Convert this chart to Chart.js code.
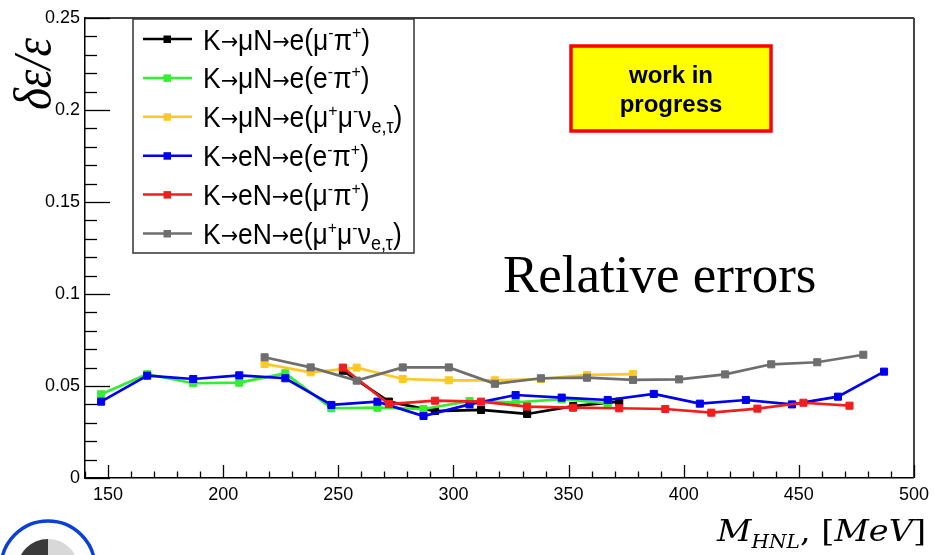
<!DOCTYPE html>
<html>
<head>
<meta charset="utf-8">
<script src="https://cdn.jsdelivr.net/npm/chart.js@4.4.1/dist/chart.umd.min.js"></script>
<style>
html, body { margin: 0; padding: 0; background: #fff; }
#wrap { position: relative; width: 935px; height: 555px; overflow: hidden; }
</style>
</head>
<body>
<div id="wrap"><canvas id="errChart" width="935" height="555"></canvas></div>
<script>
// axis ticks
const xTicks = [150, 200, 250, 300, 350, 400, 450, 500];
const yTicks = [0, 0.05, 0.1, 0.15, 0.2, 0.25];

// HNL masses (MeV) per channel
const massMuMuPi = [252, 272, 292, 312, 332, 352, 372];
const massMuEPi = [147, 167, 187, 207, 227, 247, 267, 287, 307, 327, 347, 367];
const massMuMuMu = [218, 238, 258, 278, 298, 318, 338, 358, 378];
const massEEPi = [147, 167, 187, 207, 227, 247, 267, 287, 307, 327, 347, 367, 387, 407, 427, 447, 467, 487];
const massEMuPi = [252, 272, 292, 312, 332, 352, 372, 392, 412, 432, 452, 472];
const massEMuMu = [218, 238, 258, 278, 298, 318, 338, 358, 378, 398, 418, 438, 458, 478];

// relative errors
const errMuMuPi = [0.0583, 0.0415, 0.0364, 0.0370, 0.0348, 0.0391, 0.0415];
const errMuEPi = [0.0455, 0.0564, 0.0515, 0.0518, 0.0569, 0.0379, 0.0382, 0.0375, 0.0418, 0.0411, 0.0428, 0.0406];
const errMuMuMu = [0.0620, 0.0574, 0.0600, 0.0538, 0.0531, 0.0531, 0.0538, 0.0560, 0.0565];
const errEEPi = [0.0415, 0.0556, 0.0538, 0.0558, 0.0542, 0.0397, 0.0415, 0.0337, 0.0400, 0.0451, 0.0437, 0.0424, 0.0457, 0.0404, 0.0424, 0.0400, 0.0442, 0.0578];
const errEMuPi = [0.0600, 0.0402, 0.0420, 0.0415, 0.0388, 0.0382, 0.0379, 0.0375, 0.0355, 0.0377, 0.0409, 0.0393];
const errEMuMu = [0.0656, 0.0601, 0.0529, 0.0601, 0.0601, 0.0512, 0.0542, 0.0545, 0.0533, 0.0536, 0.0563, 0.0618, 0.0629, 0.0670];

// legend labels: [text, 0 normal / 1 superscript / -1 subscript / 2 arrow]
const labelMuMuPi = [['K', 0], ['→', 2], ['μN', 0], ['→', 2], ['e(μ', 0], ['-', 1], ['π', 0], ['+', 1], [')', 0]];
const labelMuEPi = [['K', 0], ['→', 2], ['μN', 0], ['→', 2], ['e(e', 0], ['-', 1], ['π', 0], ['+', 1], [')', 0]];
const labelMuMuMu = [['K', 0], ['→', 2], ['μN', 0], ['→', 2], ['e(μ', 0], ['+', 1], ['μ', 0], ['-', 1], ['ν', 0], ['e,τ', -1], [')', 0]];
const labelEEPi = [['K', 0], ['→', 2], ['eN', 0], ['→', 2], ['e(e', 0], ['-', 1], ['π', 0], ['+', 1], [')', 0]];
const labelEMuPi = [['K', 0], ['→', 2], ['eN', 0], ['→', 2], ['e(μ', 0], ['-', 1], ['π', 0], ['+', 1], [')', 0]];
const labelEMuMu = [['K', 0], ['→', 2], ['eN', 0], ['→', 2], ['e(μ', 0], ['+', 1], ['μ', 0], ['-', 1], ['ν', 0], ['e,τ', -1], [')', 0]];

function toPoints(xs, ys) {
    return xs.map((x, i) => ({ x: x, y: ys[i] }));
}

function series(parts, xs, ys, color, order) {
    return {
        label: parts.map(p => p[0]).join(''),
        parts: parts,
        data: toPoints(xs, ys),
        borderColor: color,
        backgroundColor: color,
        pointBackgroundColor: color,
        pointBorderColor: color,
        borderWidth: 2.7,
        pointStyle: 'rect',
        pointRadius: 5,
        pointBorderWidth: 1,
        tension: 0,
        order: order
    };
}

const datasets = [
    series(labelMuMuPi, massMuMuPi, errMuMuPi, '#000000', 6),
    series(labelMuEPi, massMuEPi, errMuEPi, '#33ee33', 5),
    series(labelMuMuMu, massMuMuMu, errMuMuMu, '#ffc825', 4),
    series(labelEEPi, massEEPi, errEEPi, '#0000ee', 3),
    series(labelEMuPi, massEMuPi, errEMuPi, '#f01e1e', 2),
    series(labelEMuMu, massEMuMu, errEMuMu, '#6e6e6e', 1)
];

const sansFam = '"Liberation Sans", Arial, sans-serif';
const arrowFam = '"DejaVu Sans", sans-serif';

// draw label pieces from x, returns the end x (draw=false only measures)
function drawParts(ctx, parts, x, y, size, draw) {
    parts.forEach(p => {
        let fs = size, dy = 0, fam = sansFam;
        if (p[1] === 1) { fs = size * 0.6; dy = -size * 0.38; }
        if (p[1] === -1) { fs = size * 0.68; dy = size * 0.2; }
        if (p[1] === 2) { fam = arrowFam; fs = size * 0.78; dy = -size * 0.03; }
        ctx.font = fs + 'px ' + fam;
        if (draw) ctx.fillText(p[0], x, y + dy);
        x += ctx.measureText(p[0]).width;
    });
    return x;
}

// frame, inward ticks, legend, titles and labels
const decorPlugin = {
    id: 'decor',
    afterDraw(chart) {
        const ctx = chart.ctx;
        const area = chart.chartArea;
        const xs = chart.scales.x, ys = chart.scales.y;
        ctx.save();

        // top / right frame
        ctx.strokeStyle = '#000';
        ctx.lineWidth = 1.5;
        ctx.beginPath();
        ctx.moveTo(area.left, area.top);
        ctx.lineTo(area.right, area.top);
        ctx.stroke();
        ctx.strokeStyle = '#444';
        ctx.lineWidth = 2;
        ctx.beginPath();
        ctx.moveTo(area.right, area.top);
        ctx.lineTo(area.right, area.bottom);
        ctx.stroke();

        // ticks
        ctx.strokeStyle = '#000';
        ctx.lineWidth = 1.3;
        for (let v = 140; v <= 500; v += 10) {
            const px = Math.round(xs.getPixelForValue(v)) + 0.5;
            const len = v % 50 === 0 ? 13 : 6.5;
            ctx.beginPath();
            ctx.moveTo(px, area.bottom);
            ctx.lineTo(px, area.bottom - len);
            ctx.stroke();
        }
        for (let i = 0; i <= 25; i++) {
            const py = Math.round(ys.getPixelForValue(i / 100)) + 0.5;
            const len = i % 5 === 0 ? 25 : 12;
            ctx.beginPath();
            ctx.moveTo(area.left, py);
            ctx.lineTo(area.left + len, py);
            ctx.stroke();
        }

        // legend
        const lx = 133, ly = 19, lw = 281, lh = 234;
        ctx.fillStyle = '#fff';
        ctx.fillRect(lx, ly, lw, lh);
        const fontSize = 29;
        const firstW = drawParts(ctx, chart.data.datasets[0].parts, 0, 0, fontSize, false);
        const sx = 167 / firstW;
        chart.data.datasets.forEach((ds, i) => {
            const cy = 39 + i * 38.9;
            ctx.strokeStyle = ds.borderColor;
            ctx.lineWidth = 2.5;
            ctx.beginPath();
            ctx.moveTo(143, cy);
            ctx.lineTo(192, cy);
            ctx.stroke();
            ctx.fillStyle = ds.borderColor;
            ctx.fillRect(163.5, cy - 3.5, 7.5, 7.5);
            ctx.fillStyle = '#000';
            ctx.textBaseline = 'alphabetic';
            ctx.textAlign = 'left';
            ctx.save();
            ctx.beginPath();
            ctx.rect(lx, ly, lw, lh);
            ctx.clip();
            ctx.translate(203, cy + 10.5);
            ctx.scale(sx, 1);
            drawParts(ctx, ds.parts, 0, 0, fontSize, true);
            ctx.restore();
        });
        ctx.strokeStyle = '#333';
        ctx.lineWidth = 1.5;
        ctx.strokeRect(lx, ly, lw, lh);

        // work in progress box
        ctx.fillStyle = '#ffff00';
        ctx.fillRect(571, 46, 200, 85);
        ctx.strokeStyle = '#ff0000';
        ctx.lineWidth = 3.5;
        ctx.strokeRect(571, 46, 200, 85);
        ctx.fillStyle = '#000';
        ctx.textAlign = 'center';
        ctx.font = 'bold 24px ' + sansFam;
        ctx.fillText('work in', 671, 83);
        ctx.fillText('progress', 671, 112);

        // relative errors
        ctx.textAlign = 'left';
        ctx.font = '53px "Liberation Serif", "Times New Roman", serif';
        ctx.fillText('Relative errors', 503, 292);

        // y title
        ctx.save();
        ctx.font = 'italic 52px "Liberation Serif", serif';
        const yt = 'δε/ε';
        const ytw = ctx.measureText(yt).width;
        ctx.translate(50, 110);
        ctx.rotate(-Math.PI / 2);
        ctx.scale(72 / ytw, 1);
        ctx.textAlign = 'left';
        ctx.fillText(yt, 0, 0);
        ctx.restore();

        // x title
        ctx.save();
        const fam = '"DejaVu Serif", serif';
        const xParts = [['M', 'italic 30px ', 0], ['HNL', 'italic 18px ', 7], [', [', '30px ', 0], ['MeV', 'italic 30px ', 0], [']', '30px ', 0]];
        let total = 0;
        xParts.forEach(p => { ctx.font = p[1] + fam; total += ctx.measureText(p[0]).width; });
        ctx.translate(717, 541);
        ctx.scale(209 / total, 1);
        ctx.textAlign = 'left';
        let tx = 0;
        xParts.forEach(p => {
            ctx.font = p[1] + fam;
            ctx.fillText(p[0], tx, p[2]);
            tx += ctx.measureText(p[0]).width;
        });
        ctx.restore();

        // logo
        ctx.fillStyle = '#3a3a3a';
        ctx.beginPath();
        ctx.arc(48, 570, 31, Math.PI / 2, Math.PI * 1.5);
        ctx.fill();
        ctx.fillStyle = '#d8d8d8';
        ctx.beginPath();
        ctx.arc(48, 570, 31, -Math.PI / 2, Math.PI / 2);
        ctx.fill();
        ctx.strokeStyle = '#0a3fd8';
        ctx.lineWidth = 3.5;
        ctx.beginPath();
        ctx.arc(48, 568, 47, 0, Math.PI * 2);
        ctx.stroke();

        ctx.restore();
    }
};

const tickFont = { family: sansFam, size: 18 };

const config = {
    type: 'line',
    data: { datasets: datasets },
    options: {
        responsive: false,
        animation: false,
        layout: { padding: { top: 18, right: 20, left: 0, bottom: 0 } },
        plugins: {
            legend: { display: false },
            tooltip: { enabled: false }
        },
        scales: {
            x: {
                type: 'linear',
                min: 140,
                max: 500,
                afterBuildTicks: s => { s.ticks = xTicks.map(v => ({ value: v })); },
                afterFit: s => { s.height = 77; },
                grid: { display: false, drawTicks: false },
                border: { display: true, color: '#000', width: 1.5 },
                ticks: { font: tickFont, color: '#000', padding: 6, maxRotation: 0, autoSkip: false }
            },
            y: {
                min: 0,
                max: 0.25,
                afterBuildTicks: s => { s.ticks = yTicks.map(v => ({ value: v })); },
                afterFit: s => { s.width = 85; },
                grid: { display: false, drawTicks: false },
                border: { display: true, color: '#000', width: 1.5 },
                ticks: { font: tickFont, color: '#000', padding: 5, callback: v => String(+v.toFixed(2)) }
            }
        }
    },
    plugins: [decorPlugin]
};

window.onload = function() {
    const ctx = document.getElementById('errChart').getContext('2d');
    window.errChart = new Chart(ctx, config);
};
</script>
</body>
</html>
